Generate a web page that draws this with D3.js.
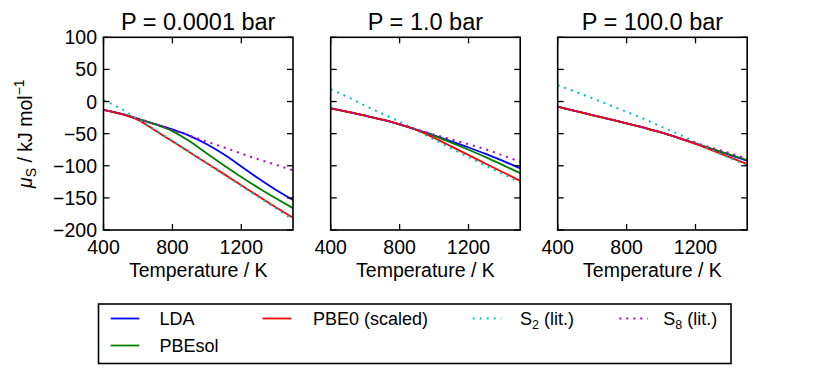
<!DOCTYPE html>
<html>
<head>
<meta charset="utf-8">
<script src="https://cdn.jsdelivr.net/npm/d3@7"></script>
<style>
  body { margin: 0; background: #fff; }
  svg text { font-family: "Liberation Sans", Arial, sans-serif; fill: #000; }
</style>
</head>
<body>
<div id="chart"></div>
<script>
// temperatures sampled (K)
let temps = [400, 500, 600, 700, 800, 900, 1000, 1100, 1200, 1300, 1400, 1500];

let pressures = ["P = 0.0001 bar", "P = 1.0 bar", "P = 100.0 bar"];
let seriesNames = ["LDA", "PBEsol", "PBE0 (scaled)", "S2 (lit.)", "S8 (lit.)"];

// mu_S in kJ/mol
let lda_p1    = [-13, -19, -27, -35, -43.5, -53.5, -66.5, -82.5, -101, -120, -137.5, -153.5];
let pbesol_p1 = [-13, -19, -27, -35.5, -46, -62, -81, -99.5, -117.5, -134.5, -150.5, -166];
let pbe0_p1   = [-13, -19.5, -28.5, -45, -62, -79, -96, -113, -130.5, -147.5, -164.5, -181];
let s2_p1     = [2, -11, -27.5, -44, -61, -79, -96.5, -114, -131.5, -149, -166, -184];
let s8_p1     = [-13, -19, -26.5, -35, -44, -53, -62.5, -71.5, -81, -90, -98.5, -107];

let lda_p2    = [-10.5, -16, -22, -28.3, -35.5, -44, -52.5, -62, -71.5, -81.5, -92.5, -104];
let pbesol_p2 = [-10.5, -16, -22, -28.3, -35.5, -44, -53.5, -64, -75, -86.5, -99, -111.5];
let pbe0_p2   = [-10.5, -16, -22, -28.3, -35.5, -44.5, -56.5, -69.8, -83.3, -96.8, -110.2, -123.5];
let s2_p2     = [19, 7, -6.5, -19, -31.5, -45, -59, -73, -86.5, -100, -113, -126];
let s8_p2     = [-10.5, -16, -22, -28.3, -35.5, -43.5, -51.5, -59, -66.5, -74.5, -84, -94];

let lda_p3    = [-8, -14.5, -21, -27.5, -34, -40.8, -48, -56.5, -65.5, -74.5, -83.3, -92];
let pbesol_p3 = [-8, -14.5, -21, -27.5, -34, -40.8, -48, -56.5, -65.3, -74, -82.5, -91];
let pbe0_p3   = [-8, -14.5, -21, -27.5, -34, -40.8, -48, -56.5, -66, -76.5, -87, -97.4];
let s2_p3     = [25.5, 15.5, 5.2, -5.5, -16, -27, -39, -50.6, -63.5, -76.5, -88, -99.5];
let s8_p3     = [-8, -14.5, -21, -27.5, -34, -40.8, -48, -56.5, -64.5, -72.5, -80.5, -89.5];

let xTicks = [400, 800, 1200];
let yTicks = [-200, -150, -100, -50, 0, 50, 100];

let panelData = [
  [lda_p1, pbesol_p1, pbe0_p1, s2_p1, s8_p1],
  [lda_p2, pbesol_p2, pbe0_p2, s2_p2, s8_p2],
  [lda_p3, pbesol_p3, pbe0_p3, s2_p3, s8_p3]
];

let colors = ["#0000ff", "#008000", "#ff0000", "#00bfbf", "#bf00bf"];
let dotted = [false, false, false, true, true];

let W = 830, H = 385;
let svg = d3.select("#chart").append("svg")
  .attr("width", W).attr("height", H);

let panelLeft = [103.5, 330.7, 557.7];
let panelW = 189.5;
let plotTop = 37.3, plotBottom = 230;

let y = d3.scaleLinear().domain([-200, 100]).range([plotBottom, plotTop]);

panelData.forEach(function(series, p) {
  let x = d3.scaleLinear().domain([400, 1500]).range([panelLeft[p], panelLeft[p] + panelW]);
  let g = svg.append("g");

  // clip for lines
  let clipId = "clip" + p;
  g.append("clipPath").attr("id", clipId).append("rect")
    .attr("x", x(400)).attr("y", plotTop).attr("width", panelW).attr("height", plotBottom - plotTop);

  let line = d3.line()
    .x((d, i) => x(temps[i]))
    .y(d => y(d))
    .curve(d3.curveMonotoneX);

  series.forEach(function(vals, s) {
    g.append("path")
      .attr("clip-path", "url(#" + clipId + ")")
      .attr("d", line(vals))
      .attr("fill", "none")
      .attr("stroke", colors[s])
      .attr("stroke-width", dotted[s] ? 2 : 1.8)
      .attr("stroke-dasharray", dotted[s] ? "2,5" : null);
  });

  // ticks inside on all sides
  let tickLen = 6;
  xTicks.forEach(t => {
    g.append("line").attr("x1", x(t)).attr("x2", x(t)).attr("y1", plotBottom).attr("y2", plotBottom - tickLen)
      .attr("stroke", "#000").attr("stroke-width", 1.3);
    g.append("line").attr("x1", x(t)).attr("x2", x(t)).attr("y1", plotTop).attr("y2", plotTop + tickLen)
      .attr("stroke", "#000").attr("stroke-width", 1.3);
    g.append("text").attr("x", x(t)).attr("y", 253.5)
      .attr("text-anchor", "middle").style("font-size", "19.5px").text(t);
  });
  yTicks.forEach(t => {
    g.append("line").attr("x1", x(400)).attr("x2", x(400) + tickLen).attr("y1", y(t)).attr("y2", y(t))
      .attr("stroke", "#000").attr("stroke-width", 1.3);
    g.append("line").attr("x1", x(1500)).attr("x2", x(1500) - tickLen).attr("y1", y(t)).attr("y2", y(t))
      .attr("stroke", "#000").attr("stroke-width", 1.3);
    if (p === 0) {
      g.append("text").attr("x", x(400) - 6.5).attr("y", y(t) + 7)
        .attr("text-anchor", "end").style("font-size", "19.5px")
        .text(t < 0 ? "\u2212" + Math.abs(t) : t);
    }
  });

  // frame
  g.append("rect")
    .attr("x", x(400)).attr("y", plotTop).attr("width", panelW).attr("height", plotBottom - plotTop)
    .attr("fill", "none").attr("stroke", "#000").attr("stroke-width", 1.6);

  g.append("text").attr("x", x(400) + panelW / 2).attr("y", 29.5)
    .attr("text-anchor", "middle").style("font-size", "23.5px").text(pressures[p]);

  g.append("text").attr("x", x(400) + panelW / 2).attr("y", 277)
    .attr("text-anchor", "middle").style("font-size", "19.5px").text("Temperature / K");
});

// y label
let yl = svg.append("text")
  .attr("transform", "translate(32," + ((plotTop + plotBottom) / 2) + ") rotate(-90)")
  .attr("text-anchor", "middle")
  .style("font-size", "19.5px");
yl.append("tspan").style("font-style", "italic").text("\u03bc");
yl.append("tspan").attr("dy", 4).style("font-size", "14px").text("S");
yl.append("tspan").attr("dy", -4).text(" / kJ mol");
yl.append("tspan").attr("dy", -8).style("font-size", "14px").text("\u22121");

// legend
let leg = svg.append("g");
leg.append("rect").attr("x", 98.5).attr("y", 304).attr("width", 632.5).attr("height", 59.5)
  .attr("fill", "#fff").attr("stroke", "#000").attr("stroke-width", 1.6);

let legPos = [
  {hx: 110.7, tx: 159.5, ry: 318.5},
  {hx: 110.7, tx: 159.5, ry: 345.5},
  {hx: 262.5, tx: 313, ry: 318.5},
  {hx: 472.7, tx: 520, ry: 318.5},
  {hx: 619.3, tx: 663.3, ry: 318.5}
];

seriesNames.forEach(function(name, s) {
  let pos = legPos[s];
  leg.append("line").attr("x1", pos.hx).attr("x2", pos.hx + 28.6)
    .attr("y1", pos.ry).attr("y2", pos.ry)
    .attr("stroke", colors[s]).attr("stroke-width", dotted[s] ? 2 : 1.8)
    .attr("stroke-dasharray", dotted[s] ? "2,5" : null);
  let t = leg.append("text").attr("x", pos.tx).attr("y", pos.ry + 6.5).style("font-size", "18px");
  let m = name.match(/^S(\d) (.*)$/);
  if (m) {
    t.append("tspan").text("S");
    t.append("tspan").attr("dy", 3.5).style("font-size", "12.5px").text(m[1]);
    t.append("tspan").attr("dy", -3.5).text(" " + m[2]);
  } else {
    t.text(name);
  }
});
</script>
</body>
</html>
